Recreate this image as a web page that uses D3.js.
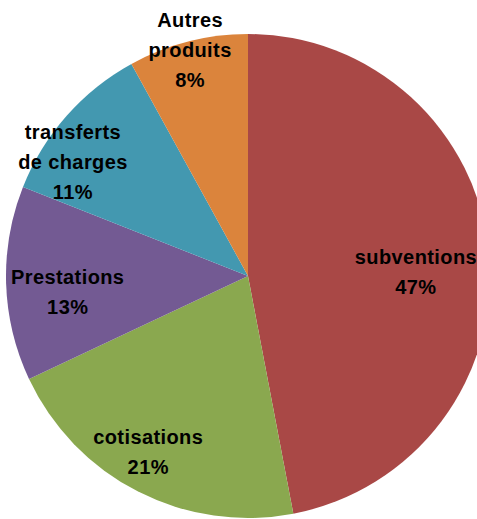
<!DOCTYPE html>
<html>
<head>
<meta charset="utf-8">
<script src="https://cdn.jsdelivr.net/npm/d3@7"></script>
<style>
  html, body { margin: 0; padding: 0; background: #fff; overflow: hidden; }
  .label { font-family: "Liberation Sans", Arial, sans-serif; font-weight: bold; font-size: 20px; letter-spacing: 0.4px; fill: #000; }
</style>
</head>
<body>
<div id="chart-container"></div>
<script>
// chart data
const categories = ['subventions', 'cotisations', 'Prestations', 'transferts de charges', 'Autres produits'];
const values = [47, 21, 13, 11, 8];
const colors = ['#A94846', '#8AA84F', '#735A93', '#4398B0', '#DB843C'];

// label text lines (as displayed)
const labelLines = [
  ['subventions', '47%'],
  ['cotisations', '21%'],
  ['Prestations', '13%'],
  ['transferts', 'de charges', '11%'],
  ['Autres', 'produits', '8%']
];

// layout: label placement (degrees clockwise from top, distance from centre)
const width = 477, height = 519;
const cx = 248, cy = 276, radius = 242;
const labelAngle = [88.6, 209.6, 264.9, 303.1, 345.6];
const labelRadius = [168, 202, 181, 209, 233];
const lineHeight = 30;

const svg = d3.select('#chart-container')
  .append('svg')
  .attr('width', width)
  .attr('height', height);

const g = svg.append('g').attr('transform', `translate(${cx}, ${cy})`);

const pie = d3.pie().sort(null).value(d => d);
const arcs = pie(values);

const arc = d3.arc().innerRadius(0).outerRadius(radius);

g.selectAll('.slice')
  .data(arcs)
  .enter()
  .append('path')
  .attr('class', 'slice')
  .attr('d', arc)
  .attr('fill', (d, i) => colors[i]);

// labels
arcs.forEach((d, i) => {
  const a = labelAngle[i] * Math.PI / 180;
  const r = labelRadius[i];
  const x = r * Math.sin(a);
  const y = -r * Math.cos(a);
  const lines = labelLines[i];
  const text = g.append('text')
    .attr('class', 'label')
    .attr('text-anchor', 'middle')
    .attr('x', x)
    .attr('y', y - (lines.length - 1) * lineHeight / 2);
  lines.forEach((line, j) => {
    text.append('tspan')
      .attr('x', x)
      .attr('dy', j === 0 ? '0.35em' : lineHeight)
      .text(line);
  });
});
</script>
</body>
</html>
